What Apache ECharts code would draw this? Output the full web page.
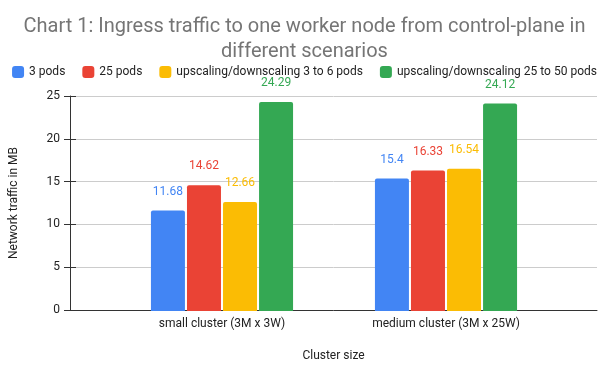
<!DOCTYPE html>
<html><head><meta charset="utf-8">
<script src="https://cdn.jsdelivr.net/npm/echarts@6/dist/echarts.min.js"></script>
<style>html,body{margin:0;padding:0;background:#fff}#c{width:609px;height:367px}</style>
</head><body><div id="c"></div>
<script>
const categories = ['small cluster (3M x 3W)', 'medium cluster (3M x 25W)'];
const seriesNames = ['3 pods', '25 pods', 'upscaling/downscaling 3 to 6 pods', 'upscaling/downscaling 25 to 50 pods'];
const pods3 = [11.68, 15.4];
const pods25 = [14.62, 16.33];
const scale3to6 = [12.66, 16.54];
const scale25to50 = [24.29, 24.12];
const colors = ['#4285F4', '#EA4335', '#FBBC04', '#34A853'];
const yTicks = [0, 5, 10, 15, 20, 25];

const values = [pods3, pods25, scale3to6, scale25to50];
const font = 'Roboto, Arial, sans-serif';
const chart = echarts.init(document.getElementById('c'), null, {renderer: 'canvas'});
chart.setOption({
  animation: false,
  textStyle: {fontFamily: font},
  title: {
    text: 'Chart 1: Ingress traffic to one worker node from control-plane in\ndifferent scenarios',
    left: 'center', top: 9,
    textStyle: {fontSize: 20, fontWeight: 'normal', color: '#757575', lineHeight: 25, fontFamily: font}
  },
  legend: {
    data: seriesNames, top: 61, left: 'center', itemWidth: 12, itemHeight: 12, itemGap: 17,
    icon: 'roundRect',
    textStyle: {fontSize: 12, color: '#222', fontFamily: font}
  },
  grid: [
    {left: 70, right: 12, top: 96, bottom: 56},
    {left: 110, right: 51, top: 96, bottom: 56}
  ],
  xAxis: [
    {gridIndex: 0, type: 'value', min: 0, max: 1, axisLabel: {show: false}, axisTick: {show: false}, splitLine: {show: false},
     axisLine: {show: true, onZero: false, lineStyle: {color: '#333', width: 1}},
     name: 'Cluster size', nameLocation: 'middle', nameGap: 40, nameTextStyle: {fontSize: 12, color: '#222'}},
    {gridIndex: 1, type: 'category', data: categories, axisLine: {show: false}, axisTick: {show: false},
     axisLabel: {fontSize: 12, color: '#222', margin: 7}}
  ],
  yAxis: [
    {gridIndex: 0, type: 'value', min: 0, max: 25, interval: 5,
     axisLine: {show: true, lineStyle: {color: '#333'}}, axisTick: {show: true, length: 6, lineStyle: {color: '#333'}},
     axisLabel: {fontSize: 12, color: '#222', margin: 10},
     splitLine: {lineStyle: {color: '#ccc'}},
     name: 'Network traffic in MB', nameLocation: 'middle', nameGap: 50, nameTextStyle: {fontSize: 12, color: '#222'}},
    {gridIndex: 1, type: 'value', min: 0, max: 25, interval: 5, show: false},
    {gridIndex: 0, type: 'value', min: 0, max: 25, interval: 5, position: 'left',
     axisLine: {show: false}, axisLabel: {show: false}, splitLine: {show: false},
     axisTick: {show: true, inside: true, length: 6, lineStyle: {color: '#333'}}}
  ],
  series: seriesNames.map((n, i) => ({
    name: n, type: 'bar', xAxisIndex: 1, yAxisIndex: 1, data: values[i],
    barWidth: 34, barGap: '6%',
    itemStyle: {color: colors[i], borderRadius: [2, 2, 0, 0]},
    label: {show: true, position: 'top', distance: 13, color: colors[i], fontSize: 12, fontFamily: font}
  }))
});
</script></body></html>
